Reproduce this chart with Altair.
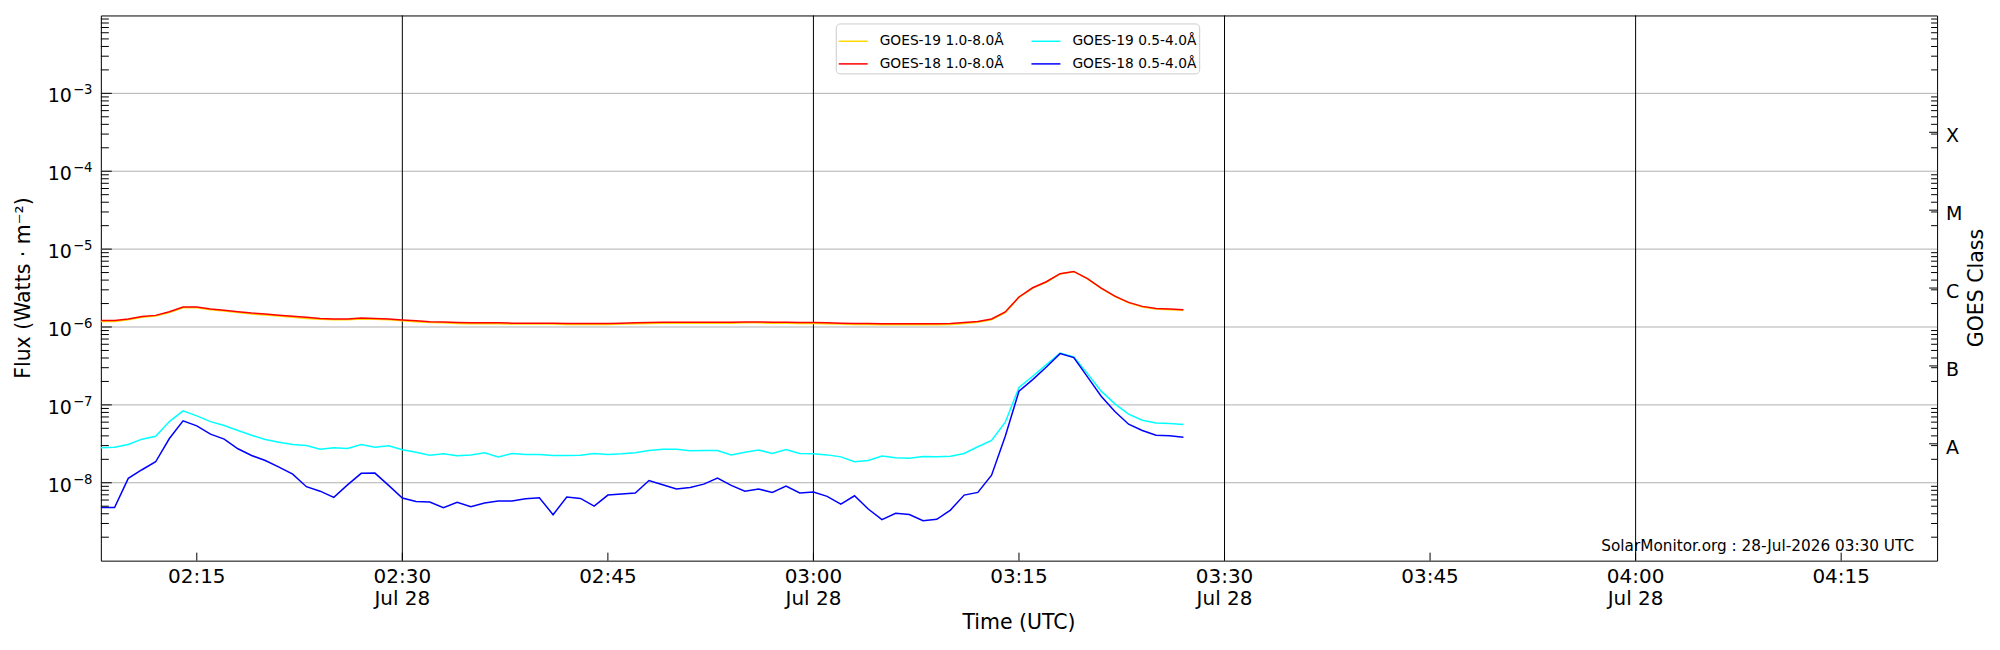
import altair as alt
import pandas as pd

# ---------------- data ----------------
DATE = "2026-07-28"
DATE_LABEL = "Jul 28"
START = "02:08"          # first sample (1-minute cadence)
X_START = "02:08"
X_END = "04:22"
X_TICKS = ["02:15", "02:30", "02:45", "03:00", "03:15", "03:30", "03:45", "04:00", "04:15"]
V_LINES = ["02:30", "03:00", "03:30", "04:00"]

# legend order (the legend fills column by column)
SERIES = ["GOES-19 1.0-8.0Å", "GOES-18 1.0-8.0Å", "GOES-19 0.5-4.0Å", "GOES-18 0.5-4.0Å"]
COLORS = ["#ffd700", "#ff0000", "#00ffff", "#0000ff"]
DRAW_ORDER = ["GOES-19 1.0-8.0Å", "GOES-18 1.0-8.0Å", "GOES-19 0.5-4.0Å", "GOES-18 0.5-4.0Å"]

G18_LONG = [1.21e-6, 1.21e-6, 1.27e-6, 1.36e-6, 1.41e-6, 1.57e-6, 1.80e-6, 1.80e-6, 1.70e-6, 1.64e-6,
            1.57e-6, 1.51e-6, 1.47e-6, 1.42e-6, 1.37e-6, 1.33e-6, 1.29e-6, 1.27e-6, 1.27e-6, 1.30e-6,
            1.29e-6, 1.27e-6, 1.23e-6, 1.20e-6, 1.17e-6, 1.16e-6, 1.14e-6, 1.13e-6, 1.13e-6, 1.13e-6,
            1.12e-6, 1.12e-6, 1.12e-6, 1.12e-6, 1.11e-6, 1.11e-6, 1.11e-6, 1.11e-6, 1.12e-6, 1.13e-6,
            1.14e-6, 1.15e-6, 1.15e-6, 1.15e-6, 1.15e-6, 1.15e-6, 1.15e-6, 1.16e-6, 1.16e-6, 1.15e-6,
            1.15e-6, 1.14e-6, 1.14e-6, 1.13e-6, 1.12e-6, 1.11e-6, 1.11e-6, 1.10e-6, 1.10e-6, 1.10e-6,
            1.10e-6, 1.10e-6, 1.11e-6, 1.14e-6, 1.18e-6, 1.27e-6, 1.56e-6, 2.43e-6, 3.19e-6, 3.81e-6,
            4.83e-6, 5.17e-6, 4.17e-6, 3.16e-6, 2.49e-6, 2.07e-6, 1.84e-6, 1.73e-6, 1.70e-6, 1.67e-6]

G19_LONG = [1.18e-6, 1.18e-6, 1.24e-6, 1.33e-6, 1.38e-6, 1.53e-6, 1.76e-6, 1.76e-6, 1.66e-6, 1.60e-6,
            1.53e-6, 1.47e-6, 1.43e-6, 1.38e-6, 1.33e-6, 1.29e-6, 1.26e-6, 1.24e-6, 1.24e-6, 1.27e-6,
            1.26e-6, 1.24e-6, 1.20e-6, 1.17e-6, 1.14e-6, 1.13e-6, 1.11e-6, 1.10e-6, 1.10e-6, 1.10e-6,
            1.09e-6, 1.09e-6, 1.09e-6, 1.09e-6, 1.08e-6, 1.08e-6, 1.08e-6, 1.08e-6, 1.09e-6, 1.10e-6,
            1.11e-6, 1.12e-6, 1.12e-6, 1.12e-6, 1.12e-6, 1.12e-6, 1.12e-6, 1.13e-6, 1.13e-6, 1.12e-6,
            1.12e-6, 1.11e-6, 1.11e-6, 1.10e-6, 1.09e-6, 1.08e-6, 1.08e-6, 1.07e-6, 1.07e-6, 1.07e-6,
            1.07e-6, 1.07e-6, 1.08e-6, 1.11e-6, 1.15e-6, 1.24e-6, 1.53e-6, 2.40e-6, 3.15e-6, 3.78e-6,
            4.80e-6, 5.13e-6, 4.14e-6, 3.13e-6, 2.46e-6, 2.04e-6, 1.81e-6, 1.70e-6, 1.67e-6, 1.64e-6]

G19_SHORT = [2.81e-8, 2.86e-8, 3.10e-8, 3.63e-8, 3.96e-8, 6.10e-8, 8.37e-8, 7.22e-8, 6.10e-8, 5.43e-8,
             4.69e-8, 4.08e-8, 3.59e-8, 3.32e-8, 3.10e-8, 3.01e-8, 2.70e-8, 2.81e-8, 2.75e-8, 3.10e-8,
             2.86e-8, 2.98e-8, 2.65e-8, 2.47e-8, 2.26e-8, 2.35e-8, 2.22e-8, 2.28e-8, 2.43e-8, 2.15e-8,
             2.38e-8, 2.31e-8, 2.31e-8, 2.24e-8, 2.24e-8, 2.26e-8, 2.38e-8, 2.31e-8, 2.35e-8, 2.43e-8,
             2.60e-8, 2.70e-8, 2.70e-8, 2.58e-8, 2.60e-8, 2.60e-8, 2.28e-8, 2.47e-8, 2.63e-8, 2.38e-8,
             2.68e-8, 2.38e-8, 2.35e-8, 2.28e-8, 2.15e-8, 1.86e-8, 1.93e-8, 2.20e-8, 2.09e-8, 2.07e-8,
             2.17e-8, 2.15e-8, 2.19e-8, 2.38e-8, 2.90e-8, 3.49e-8, 6.00e-8, 1.67e-7, 2.33e-7, 3.29e-7,
             4.64e-7, 4.12e-7, 2.52e-7, 1.50e-7, 1.03e-7, 7.60e-8, 6.35e-8, 5.87e-8, 5.76e-8, 5.60e-8]

G18_SHORT = [4.80e-9, 4.80e-9, 1.14e-8, 1.47e-8, 1.86e-8, 3.70e-8, 6.24e-8, 5.38e-8, 4.21e-8, 3.63e-8,
             2.73e-8, 2.24e-8, 1.93e-8, 1.59e-8, 1.29e-8, 8.90e-9, 7.80e-9, 6.50e-9, 9.40e-9, 1.32e-8,
             1.33e-8, 9.25e-9, 6.36e-9, 5.75e-9, 5.65e-9, 4.78e-9, 5.60e-9, 4.92e-9, 5.50e-9, 5.82e-9,
             5.85e-9, 6.24e-9, 6.43e-9, 3.89e-9, 6.55e-9, 6.29e-9, 5.02e-9, 6.95e-9, 7.16e-9, 7.38e-9,
             1.07e-8, 9.42e-9, 8.30e-9, 8.70e-9, 9.60e-9, 1.15e-8, 9.25e-9, 7.80e-9, 8.30e-9, 7.52e-9,
             9.06e-9, 7.38e-9, 7.60e-9, 6.68e-9, 5.33e-9, 6.80e-9, 4.60e-9, 3.36e-9, 4.05e-9, 3.90e-9,
             3.26e-9, 3.39e-9, 4.46e-9, 6.95e-9, 7.52e-9, 1.25e-8, 3.96e-8, 1.50e-7, 2.11e-7, 3.07e-7,
             4.55e-7, 4.04e-7, 2.29e-7, 1.29e-7, 8.20e-8, 5.65e-8, 4.69e-8, 4.08e-8, 4.00e-8, 3.85e-8]

Y_MIN, Y_MAX = 1e-9, 1e-2
MAJOR_DECADES = [-8, -7, -6, -5, -4, -3]
MINOR_DECADES = [-9, -8, -7, -6, -5, -4, -3]
MINOR_MULT = [2, 3, 4, 5, 6, 7, 8, 9]
CLASS_LABELS = ["A", "B", "C", "M", "X"]
CLASS_EXP = [-7.5, -6.5, -5.5, -4.5, -3.5]
Y_TITLE = "Flux (Watts · m⁻²)"
X_TITLE = "Time (UTC)"
RIGHT_TITLE = "GOES Class"
WATERMARK = "SolarMonitor.org : 28-Jul-2026 03:30 UTC"

# ---------------- build tables ----------------
W, H = 1839, 546
FONT = "DejaVu Sans"
times = pd.date_range(f"{DATE} {START}", periods=len(G18_LONG), freq="min", tz="UTC")
tstr = times.strftime("%Y-%m-%dT%H:%M:%SZ")
values = {"GOES-19 1.0-8.0Å": G19_LONG, "GOES-18 1.0-8.0Å": G18_LONG,
          "GOES-19 0.5-4.0Å": G19_SHORT, "GOES-18 0.5-4.0Å": G18_SHORT}
rows = []
for s, vals in values.items():
    for t, v in zip(tstr, vals):
        rows.append({"time": t, "flux": v, "series": s})
df = pd.DataFrame(rows)


def dt(hm):
    h, m = hm.split(":")
    return alt.DateTime(year=2026, month=7, date=28, hours=int(h), minutes=int(m), utc=True)


def iso(hm):
    return f"{DATE}T{hm}:00Z"


xscale = alt.Scale(type="utc", domain=[dt(X_START), dt(X_END)])
yscale = alt.Scale(type="log", domain=[Y_MIN, Y_MAX], nice=False)
XT = lambda f: alt.X(f, scale=xscale, axis=None)
YQ = lambda f: alt.Y(f, scale=yscale, axis=None)

legend = alt.Legend(
    title=None, orient="none", legendX=736, legendY=8, columns=2,
    symbolType="stroke", symbolSize=841, symbolStrokeWidth=1.5,
    labelFontSize=13.8, labelOffset=11, rowPadding=-7, columnPadding=24,
    padding=2, strokeColor="#cccccc", fillColor="white", cornerRadius=4,
    labelFont=FONT, labelColor="black",
)
color = alt.Color("series:N", scale=alt.Scale(domain=SERIES, range=COLORS), legend=legend)

# tables for ticks / labels
major_df = pd.DataFrame({"v": [10.0 ** e for e in MAJOR_DECADES],
                         "base": ["10"] * len(MAJOR_DECADES),
                         "sup": [f"\u2212{-e}" for e in MAJOR_DECADES]})
minor_df = pd.DataFrame({"v": [m * 10.0 ** e for e in MINOR_DECADES for m in MINOR_MULT]})
class_df = pd.DataFrame({"v": [10.0 ** e for e in CLASS_EXP], "lab": CLASS_LABELS})
xt_df = pd.DataFrame({
    "time": [iso(t) for t in X_TICKS],
    "lab": [t + ("\n" + DATE_LABEL if int(t.split(":")[1]) % 30 == 0 else "") for t in X_TICKS],
})
vl_df = pd.DataFrame({"time": [iso(t) for t in V_LINES]})

rule = dict(color="black", strokeWidth=1)
txt = dict(font=FONT, color="black")

hgrid = alt.Chart(major_df).mark_rule(color="#b0b0b0", strokeWidth=1).encode(y=YQ("v:Q"))
vlines = alt.Chart(vl_df).mark_rule(**rule).encode(x=XT("time:T"))

lines = []
for s in DRAW_ORDER:
    lines.append(
        alt.Chart(df).transform_filter(alt.datum.series == s)
        .mark_line(strokeWidth=1.5)
        .encode(x=XT("time:T"), y=YQ("flux:Q"), color=color)
    )

bottom_ticks = alt.Chart(xt_df).mark_rule(**rule).encode(
    x=XT("time:T"), y=alt.value(H - 8), y2=alt.value(H))
left_major = alt.Chart(major_df).mark_rule(**rule).encode(
    y=YQ("v:Q"), x=alt.value(0), x2=alt.value(11))
left_minor = alt.Chart(minor_df).mark_rule(**rule).encode(
    y=YQ("v:Q"), x=alt.value(0), x2=alt.value(8))
right_class = alt.Chart(class_df).mark_rule(**rule).encode(
    y=YQ("v:Q"), x=alt.value(W - 8), x2=alt.value(W))
right_minor = alt.Chart(minor_df).mark_rule(**rule).encode(
    y=YQ("v:Q"), x=alt.value(W - 6), x2=alt.value(W))

# y tick labels: "10" with a raised exponent
y_base = alt.Chart(major_df).mark_text(align="right", baseline="alphabetic", fontSize=19, dy=9, **txt).encode(
    y=YQ("v:Q"), x=alt.value(-29), text="base:N")
y_sup = alt.Chart(major_df).mark_text(align="left", baseline="alphabetic", fontSize=13.3, dy=1, **txt).encode(
    y=YQ("v:Q"), x=alt.value(-28), text="sup:N")

# x tick labels
x_labels = alt.Chart(xt_df).mark_text(align="center", baseline="alphabetic", fontSize=20,
                                       lineBreak="\n", lineHeight=22, **txt).encode(
    x=XT("time:T"), y=alt.value(H + 22), text="lab:N")

# right-hand GOES class labels
right_labels = alt.Chart(class_df).mark_text(align="left", baseline="middle", fontSize=19, dy=4, **txt).encode(
    y=YQ("v:Q"), x=alt.value(W + 9), text="lab:N")

y_title = alt.Chart(pd.DataFrame({"t": [Y_TITLE]})).mark_text(
    align="center", baseline="middle", fontSize=20.5, angle=270, **txt
).encode(text="t:N", x=alt.value(-77), y=alt.value(H / 2))
x_title = alt.Chart(pd.DataFrame({"t": [X_TITLE]})).mark_text(
    align="center", baseline="alphabetic", fontSize=20.5, **txt
).encode(text="t:N", x=alt.value(W / 2), y=alt.value(H + 68))
right_title = alt.Chart(pd.DataFrame({"t": [RIGHT_TITLE]})).mark_text(
    align="center", baseline="middle", fontSize=20.5, angle=270, **txt
).encode(text="t:N", x=alt.value(W + 40), y=alt.value(H / 2))

watermark = alt.Chart(pd.DataFrame({"t": [WATERMARK]})).mark_text(
    align="right", baseline="middle", fontSize=15.3, **txt
).encode(text="t:N", x=alt.value(W - 23), y=alt.value(H - 15))

chart = (
    alt.layer(hgrid, vlines, *lines, left_major, left_minor, bottom_ticks,
              right_class, right_minor, y_base, y_sup, x_labels, right_labels,
              y_title, x_title, right_title, watermark)
    .properties(width=W, height=H, autosize="none",
                padding={"left": 93, "top": 7, "right": 55, "bottom": 78})
    .configure(font=FONT)
    .configure_view(stroke="black", strokeWidth=1)
)

chart.save("out.html", embed_options={"renderer": "svg", "actions": False})
